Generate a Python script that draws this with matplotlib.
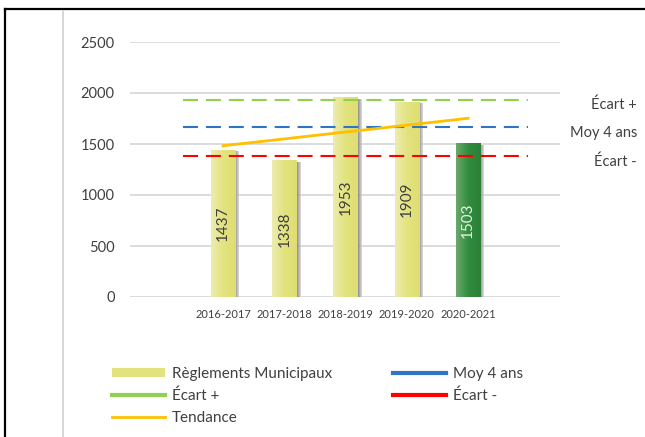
import numpy as np
import matplotlib
matplotlib.use("Agg")
import matplotlib.pyplot as plt
from matplotlib.colors import LinearSegmentedColormap
from matplotlib.lines import Line2D
from matplotlib.patches import Patch
import matplotlib.transforms as mtransforms

plt.rcParams['font.family'] = ['Lato', 'DejaVu Sans']

# donnees
annees = ['2016-2017', '2017-2018', '2018-2019', '2019-2020', '2020-2021']
reglements = [1437, 1338, 1953, 1909, 1503]
ecart_plus = 1936
moy_4_ans = 1662
ecart_moins = 1382
tendance_x = [0, 4]
tendance_y = [1483, 1752]

fig = plt.figure(figsize=(6.45, 4.37), dpi=100)
ax = fig.add_axes([130/645, 1-297/437, 430/645, 255/437])

x = np.arange(len(annees))
largeur = 0.4
jaune = LinearSegmentedColormap.from_list('j', ['#ececb0', '#e3e37e', '#dede72'])
vert = LinearSegmentedColormap.from_list('v', ['#6aa86c', '#318c3e', '#2b7f37'])
grad = np.linspace(0, 1, 64).reshape(1, -1)
ombre = LinearSegmentedColormap.from_list('o', ['#707070', '#d8d8d8'])

for i, v in enumerate(reglements):
    # ombre a droite
    ax.imshow(grad, extent=[x[i]+largeur/2, x[i]+largeur/2+0.06, 0, v-15], aspect='auto',
              cmap=ombre, zorder=2, interpolation='bicubic', alpha=0.8)
    cmap = vert if i == len(reglements) - 1 else jaune
    ax.imshow(grad, extent=[x[i]-largeur/2, x[i]+largeur/2, 0, v], aspect='auto',
              cmap=cmap, zorder=3, interpolation='bicubic')
    couleur = '#e8f2e8' if i == len(reglements) - 1 else '#404040'
    ax.text(x[i], v/2, str(v), rotation=90, ha='center', va='center',
            fontsize=11, color=couleur, zorder=6)

# lignes de reference
ax.plot([-0.65, 4.98], [ecart_plus]*2, color='#92d050', lw=1.5, dashes=(7.2, 3.8), zorder=4)
ax.plot([-0.65, 4.98], [moy_4_ans]*2, color='#2e75c6', lw=1.5, dashes=(7.2, 3.8), zorder=4)
ax.plot([-0.65, 4.98], [ecart_moins]*2, color='#ff0000', lw=1.5, dashes=(7.2, 3.8), zorder=4)
ax.plot(tendance_x, tendance_y, color='#ffc000', lw=2, zorder=5)

ax.set_xlim(-1.52, 5.5)
ax.set_ylim(0, 2500)
ax.set_yticks(range(0, 2501, 500))
ax.set_xticks(x)
ax.set_xticklabels(annees, fontsize=8, color='#404040')
ax.tick_params(axis='y', labelsize=10.5, labelcolor='#404040', length=0, pad=11)
ax.tick_params(axis='x', length=0, pad=9)
ax.grid(axis='y', color='#d9d9d9', lw=1.3, zorder=0)
ax.set_axisbelow(True)
for s in ax.spines.values():
    s.set_visible(False)

# etiquettes a droite
tr = mtransforms.blended_transform_factory(fig.transFigure, ax.transData)
for val, txt in [(ecart_plus, 'Écart +'), (moy_4_ans, 'Moy 4 ans'), (ecart_moins, 'Écart -')]:
    ax.text(637/645, val - 55, txt, transform=tr, ha='right', va='center',
            fontsize=10.5, color='#404040', clip_on=False)

# legende
poignees = [
    Patch(facecolor='#e2e27e', edgecolor='none', label='Règlements Municipaux'),
    Line2D([], [], color='#92d050', lw=3, label='Écart +'),
    Line2D([], [], color='#ffc000', lw=2, label='Tendance'),
    Line2D([], [], color='#2e75c6', lw=3, label='Moy 4 ans'),
    Line2D([], [], color='#ff0000', lw=3, label='Écart -'),
]
leg = fig.legend(handles=poignees, ncol=2, loc='upper left', bbox_to_anchor=(112/645, 1-367/437),
                 frameon=False, fontsize=11, handlelength=3.5, handleheight=0.6,
                 handletextpad=0.4, columnspacing=4.0, labelspacing=0.5,
                 borderpad=0, borderaxespad=0)
for t in leg.get_texts():
    t.set_color('#404040')

# cadre
fig.add_artist(Line2D([5/645, 1], [1-9/437, 1-9/437], color='black', lw=1.6))
fig.add_artist(Line2D([5/645, 5/645], [0, 1-9/437], color='black', lw=1.6))
fig.add_artist(Line2D([63/645, 63/645], [0, 1-11/437], color='#d0d0d0', lw=1.2))

fig.savefig('out.png', dpi=100)
